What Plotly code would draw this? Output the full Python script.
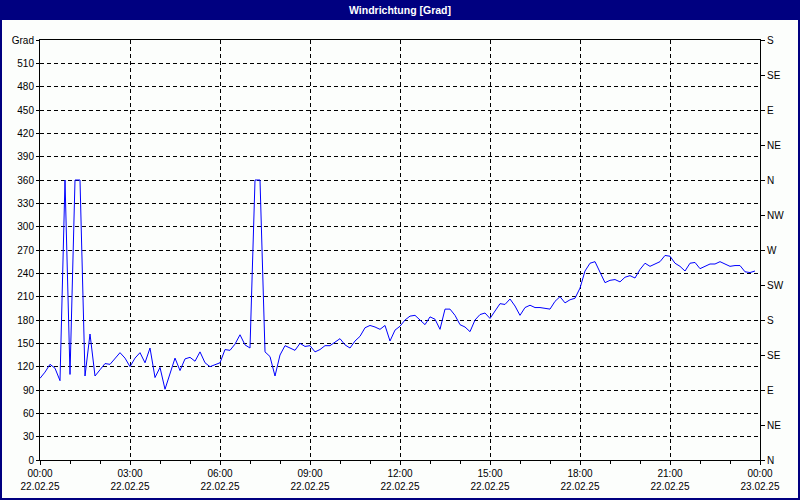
import pandas as pd
import plotly.graph_objects as go

# ---- data (10-minute wind direction readings, degrees) ----
start_time = "2025-02-22 00:00"
end_time = "2025-02-23 00:00"
direction_deg = [
    105, 113, 123, 118, 102, 360, 110, 360, 360, 108,
    162, 108, 116, 124, 123, 131, 138, 131, 120, 131,
    138, 125, 144, 106, 119, 91, 111, 131, 115, 130,
    132, 127, 139, 125, 120, 123, 125, 142, 141, 149,
    161, 148, 144, 360, 360, 139, 133, 108, 135, 147,
    144, 141, 150, 146, 147, 139, 142, 147, 147, 152,
    156, 148, 144, 153, 159, 170, 173, 171, 168, 173,
    153, 167, 172, 180, 185, 186, 180, 174, 184, 181,
    168, 194, 194, 186, 174, 171, 165, 180, 187, 189,
    182, 192, 201, 200, 207, 198, 186, 196, 199, 196,
    196, 195, 194, 204, 210, 202, 206, 208, 221, 243,
    253, 255, 241, 228, 231, 232, 229, 235, 237, 234,
    245, 253, 249, 252, 255, 263, 262, 253, 249, 243,
    253, 254, 246, 249, 252, 252, 255, 252, 249, 250,
    250, 242, 241, 243,
]
times = pd.date_range(start_time, periods=len(direction_deg), freq="10min")

# axis ticks
x_tick_times = pd.date_range(start_time, end_time, freq="3h")
x_tick_text = [t.strftime("%H:%M") + "<br>" + t.strftime("%d.%m.%y") for t in x_tick_times]
left_tick_vals = list(range(0, 541, 30))
left_tick_text = [str(v) for v in left_tick_vals[:-1]] + ["Grad"]
right_tick_vals = list(range(0, 541, 45))
right_tick_text = ["N", "NE", "E", "SE", "S", "SW", "W", "NW", "N", "NE", "E", "SE", "S"]
title_text = "Windrichtung [Grad]"

NAVY = "#000080"
BG = "#FCFEFC"
FONT = "Liberation Sans, Arial, sans-serif"

fig = go.Figure()
fig.add_trace(go.Scatter(
    x=times, y=direction_deg, mode="lines",
    line=dict(color="#0000FF", width=1), showlegend=False, hoverinfo="skip",
))
# invisible copy to anchor the compass axis on the right
fig.add_trace(go.Scatter(
    x=times, y=direction_deg, mode="lines", yaxis="y2",
    line=dict(color="rgba(0,0,0,0)", width=0), showlegend=False, hoverinfo="skip",
))

W, H = 800, 500
L, R, T, B = 40, 40, 40, 40
pw, ph = W - L - R, H - T - B


def px_x(p):
    return (p - L) / pw


def px_y(p):
    return (H - B - p) / ph


shapes = [
    # title bar
    dict(type="rect", xref="paper", yref="paper",
         x0=px_x(0), x1=px_x(W), y0=px_y(20), y1=px_y(0),
         fillcolor=NAVY, line=dict(width=0), layer="above"),
    # window frame
    dict(type="rect", xref="paper", yref="paper",
         x0=px_x(1), x1=px_x(W - 1), y0=px_y(H - 1), y1=px_y(1),
         fillcolor="rgba(0,0,0,0)", line=dict(color=NAVY, width=2), layer="above"),
]

fig.update_layout(
    width=W, height=H,
    margin=dict(l=L, r=R, t=T, b=B, pad=0, autoexpand=False),
    paper_bgcolor=BG, plot_bgcolor=BG,
    font=dict(family=FONT, size=10, color="#000000"),
    shapes=shapes,
    annotations=[dict(
        text="<b>" + title_text + "</b>", xref="paper", yref="paper",
        x=0.5, y=px_y(10), xanchor="center", yanchor="middle",
        showarrow=False, font=dict(family=FONT, size=10.5, color="#FFFFFF"),
    )],
    xaxis=dict(
        range=[start_time, end_time], type="date", automargin=False,
        tickvals=x_tick_times, ticktext=x_tick_text,
        showgrid=True, gridcolor="#000000", gridwidth=1, griddash="4px,3px",
        showline=True, linecolor="#000000", linewidth=1, mirror=True,
        ticks="outside", ticklen=4, tickcolor="#000000",
        minor=dict(dtick=3600000, ticks="outside", ticklen=3, tickcolor="#000000", showgrid=False),
        zeroline=False, fixedrange=True,
    ),
    yaxis=dict(
        range=[0, 540], tickvals=left_tick_vals, ticktext=left_tick_text, automargin=False,
        showgrid=True, gridcolor="#000000", gridwidth=1, griddash="4px,3px",
        showline=True, linecolor="#000000", linewidth=1,
        ticks="outside", ticklen=3, tickcolor="#000000",
        zeroline=False, fixedrange=True,
    ),
    yaxis2=dict(
        range=[0, 540], overlaying="y", side="right", automargin=False,
        tickvals=right_tick_vals, ticktext=right_tick_text,
        showgrid=False, showline=True, linecolor="#000000", linewidth=1,
        ticks="outside", ticklen=4, tickcolor="#000000",
        zeroline=False, fixedrange=True,
    ),
)

fig.write_html(
    "out.html", include_plotlyjs=True,
    config={"displayModeBar": False, "staticPlot": True},
    post_script="document.body.style.margin='0';document.body.style.padding='0';",
)
